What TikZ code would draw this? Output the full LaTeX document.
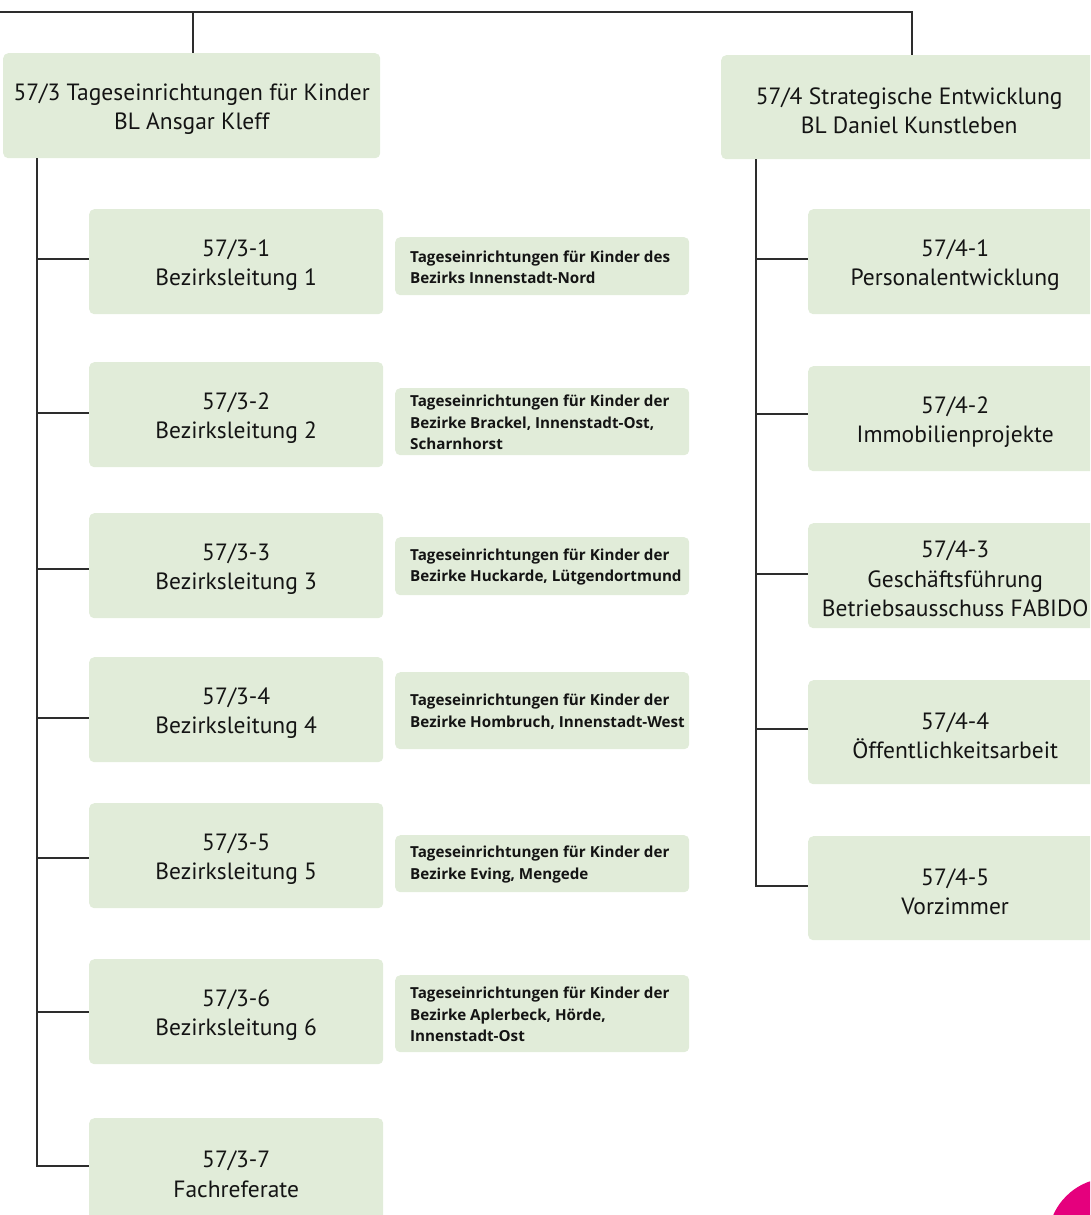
\documentclass[tikz,border=0pt]{standalone}
\usepackage{fontspec}
\setmainfont{PT Sans}
\newfontfamily\descfont{Open Sans}
\definecolor{boxgreen}{RGB}{225,236,217}
\definecolor{linegray}{RGB}{45,45,45}
\definecolor{txt}{RGB}{20,20,20}
\definecolor{pinkc}{RGB}{229,0,125}
\tikzset{
  unitbox/.style={fill=boxgreen, rounded corners=5pt, anchor=north west, inner sep=0pt},
  unittext/.style={align=center, text=txt, font=\fontsize{23.5}{29.5}\selectfont, yshift=-3.5pt},
  descbox/.style={fill=boxgreen, rounded corners=5pt, anchor=north west, inner sep=0pt,
    minimum width=294pt},
  desctext/.style={anchor=west, align=left, inner sep=0pt, text=txt, yshift=-1pt,
    font=\descfont\bfseries\fontsize{15.2}{21.5}\selectfont},
  conn/.style={draw=linegray, line width=1.3pt},
}
\begin{document}
\begin{tikzpicture}[x=1pt,y=-1pt]
\useasboundingbox (0,0) rectangle (1090,1215);
\clip (0,0) rectangle (1090,1215);
% top level boxes
\node[unitbox, minimum width=377pt, minimum height=105pt] (t3) at (3,53) {};
\node[unittext] at (t3.center) {57/3 Tageseinrichtungen für Kinder\\BL Ansgar Kleff};
\node[unitbox, minimum width=376pt, minimum height=104pt] (t4) at (721,55) {};
\node[unittext] at (t4.center) {57/4 Strategische Entwicklung\\BL Daniel Kunstleben};
% left sub boxes
\node[unitbox, minimum width=294pt, minimum height=105pt] (b1) at (89,209) {};
\node[unittext] at (b1.center) {57/3-1\\Bezirksleitung 1};
\node[unitbox, minimum width=294pt, minimum height=105pt] (b2) at (89,362) {};
\node[unittext] at (b2.center) {57/3-2\\Bezirksleitung 2};
\node[unitbox, minimum width=294pt, minimum height=105pt] (b3) at (89,513) {};
\node[unittext] at (b3.center) {57/3-3\\Bezirksleitung 3};
\node[unitbox, minimum width=294pt, minimum height=105pt] (b4) at (89,657) {};
\node[unittext] at (b4.center) {57/3-4\\Bezirksleitung 4};
\node[unitbox, minimum width=294pt, minimum height=105pt] (b5) at (89,803) {};
\node[unittext] at (b5.center) {57/3-5\\Bezirksleitung 5};
\node[unitbox, minimum width=294pt, minimum height=105pt] (b6) at (89,959) {};
\node[unittext] at (b6.center) {57/3-6\\Bezirksleitung 6};
\node[unitbox, minimum width=294pt, minimum height=105pt] (b7) at (89,1118) {};
\node[unittext] at (b7.center) {57/3-7\\Fachreferate};
% description boxes
\node[descbox, minimum height=58pt] (d1) at (395,237) {};
\node[desctext] at ([xshift=15pt]d1.west) {Tageseinrichtungen für Kinder des\\Bezirks Innenstadt-Nord};
\node[descbox, minimum height=67pt] (d2) at (395,388) {};
\node[desctext] at ([xshift=15pt]d2.west) {Tageseinrichtungen für Kinder der\\Bezirke Brackel, Innenstadt-Ost,\\Scharnhorst};
\node[descbox, minimum height=58pt] (d3) at (395,537) {};
\node[desctext] at ([xshift=15pt]d3.west) {Tageseinrichtungen für Kinder der\\Bezirke Huckarde, Lütgendortmund};
\node[descbox, minimum height=77pt] (d4) at (395,672) {};
\node[desctext] at ([xshift=15pt]d4.west) {Tageseinrichtungen für Kinder der\\Bezirke Hombruch, Innenstadt-West};
\node[descbox, minimum height=57pt] (d5) at (395,835) {};
\node[desctext] at ([xshift=15pt]d5.west) {Tageseinrichtungen für Kinder der\\Bezirke Eving, Mengede};
\node[descbox, minimum height=77pt] (d6) at (395,975) {};
\node[desctext] at ([xshift=15pt]d6.west) {Tageseinrichtungen für Kinder der\\Bezirke Aplerbeck, Hörde,\\Innenstadt-Ost};
% right sub boxes
\node[unitbox, minimum width=294pt, minimum height=105pt] (r1) at (808,209) {};
\node[unittext] at (r1.center) {57/4-1\\Personalentwicklung};
\node[unitbox, minimum width=294pt, minimum height=105pt] (r2) at (808,366) {};
\node[unittext] at (r2.center) {57/4-2\\Immobilienprojekte};
\node[unitbox, minimum width=294pt, minimum height=105pt] (r3) at (808,523) {};
\node[unittext] at (r3.center) {57/4-3\\Geschäftsführung\\Betriebsausschuss FABIDO};
\node[unitbox, minimum width=294pt, minimum height=104pt] (r4) at (808,680) {};
\node[unittext] at (r4.center) {57/4-4\\Öffentlichkeitsarbeit};
\node[unitbox, minimum width=294pt, minimum height=104pt] (r5) at (808,836) {};
\node[unittext] at (r5.center) {57/4-5\\Vorzimmer};
% connectors
\coordinate (topL) at (-5,12);
\coordinate (lsp) at (37,158);
\coordinate (rsp) at (756,159);
\draw[conn] (topL) -- (912,12) -- (t4.north -| 912,0);
\draw[conn] (193,12) -- (t3.north -| 193,0);
\draw[conn] (lsp) |- (b1.west |- 0,259);
\draw[conn] (lsp) |- (b2.west |- 0,413);
\draw[conn] (lsp) |- (b3.west |- 0,569);
\draw[conn] (lsp) |- (b4.west |- 0,718);
\draw[conn] (lsp) |- (b5.west |- 0,858);
\draw[conn] (lsp) |- (b6.west |- 0,1012);
\draw[conn] (lsp) |- (b7.west |- 0,1166);
\draw[conn] (rsp) |- (r1.west |- 0,259);
\draw[conn] (rsp) |- (r2.west |- 0,414);
\draw[conn] (rsp) |- (r3.west |- 0,574);
\draw[conn] (rsp) |- (r4.west |- 0,729);
\draw[conn] (rsp) |- (r5.west |- 0,886);
% decorative corner
\fill[pinkc] (1110,1240) circle (62);
\end{tikzpicture}
\end{document}
